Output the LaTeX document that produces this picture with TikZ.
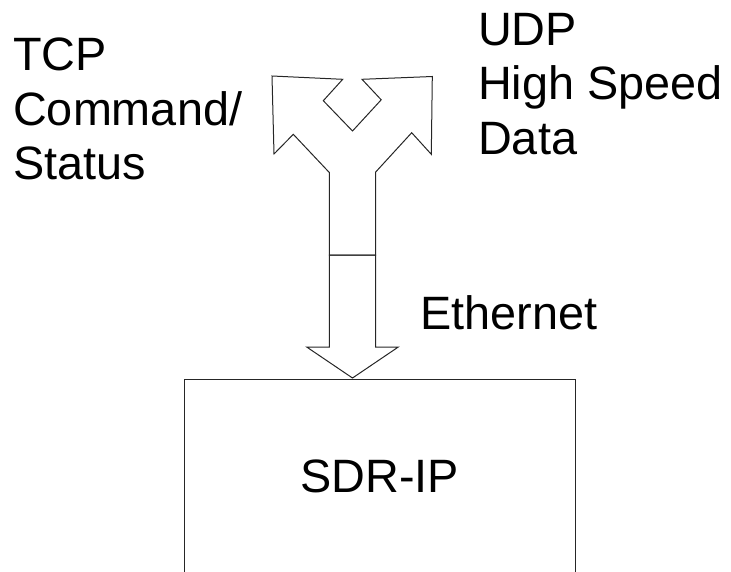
\documentclass[tikz,border=0pt]{standalone}
\usepackage{fontspec}
\setmainfont{Liberation Sans}
\usetikzlibrary{positioning}
\tikzset{
	sdrtext/.style={inner sep=0, anchor=north west, align=left, font=\fontsize{46.8}{54.5}\selectfont},
	sdrline/.style={line width=1pt, color=black!85}
}

\begin{document}
\begin{tikzpicture}[x=1pt, y=-1pt]
		%%%%% START %%%%%
		\useasboundingbox (0, 0) rectangle (731, 571);
		
		% split arrow (TCP / UDP)
		\draw[sdrline] (272, 76) -- (342.7, 79.3) -- (323.3, 100.7) -- (352.5, 131) -- (381.2, 99.8) -- (362, 79.3)
			-- (432.3, 76.5) -- (431.3, 154.3) -- (411.7, 132.7) -- (375.7, 172) -- (375.7, 255)
			-- (329.3, 255) -- (329.3, 172.5) -- (293.3, 134.3) -- (274, 154) -- cycle;
		
		% ethernet arrow
		\draw[sdrline] (329.3, 255) -- (329.3, 347) -- (306.7, 347) -- (352.5, 378)
			-- (398.3, 347) -- (375.7, 347) -- (375.7, 255) -- cycle;
		
		% device
		\node[sdrline, draw, minimum width=390.5, minimum height=195, font=\fontsize{46.8}{54.5}\selectfont, text=black] (sdrip) at (379.75, 476.5) {SDR-IP};
		
		\node[sdrtext] (tcp) at (13, 38) {TCP\\Command/\\Status};
		\node[sdrtext] (udp) at (478, 13) {UDP\\High Speed\\Data};
		\node[sdrtext] (eth) at (420, 295) {Ethernet};
		
		%%%%% END %%%%%
	\end{tikzpicture}
\end{document}
